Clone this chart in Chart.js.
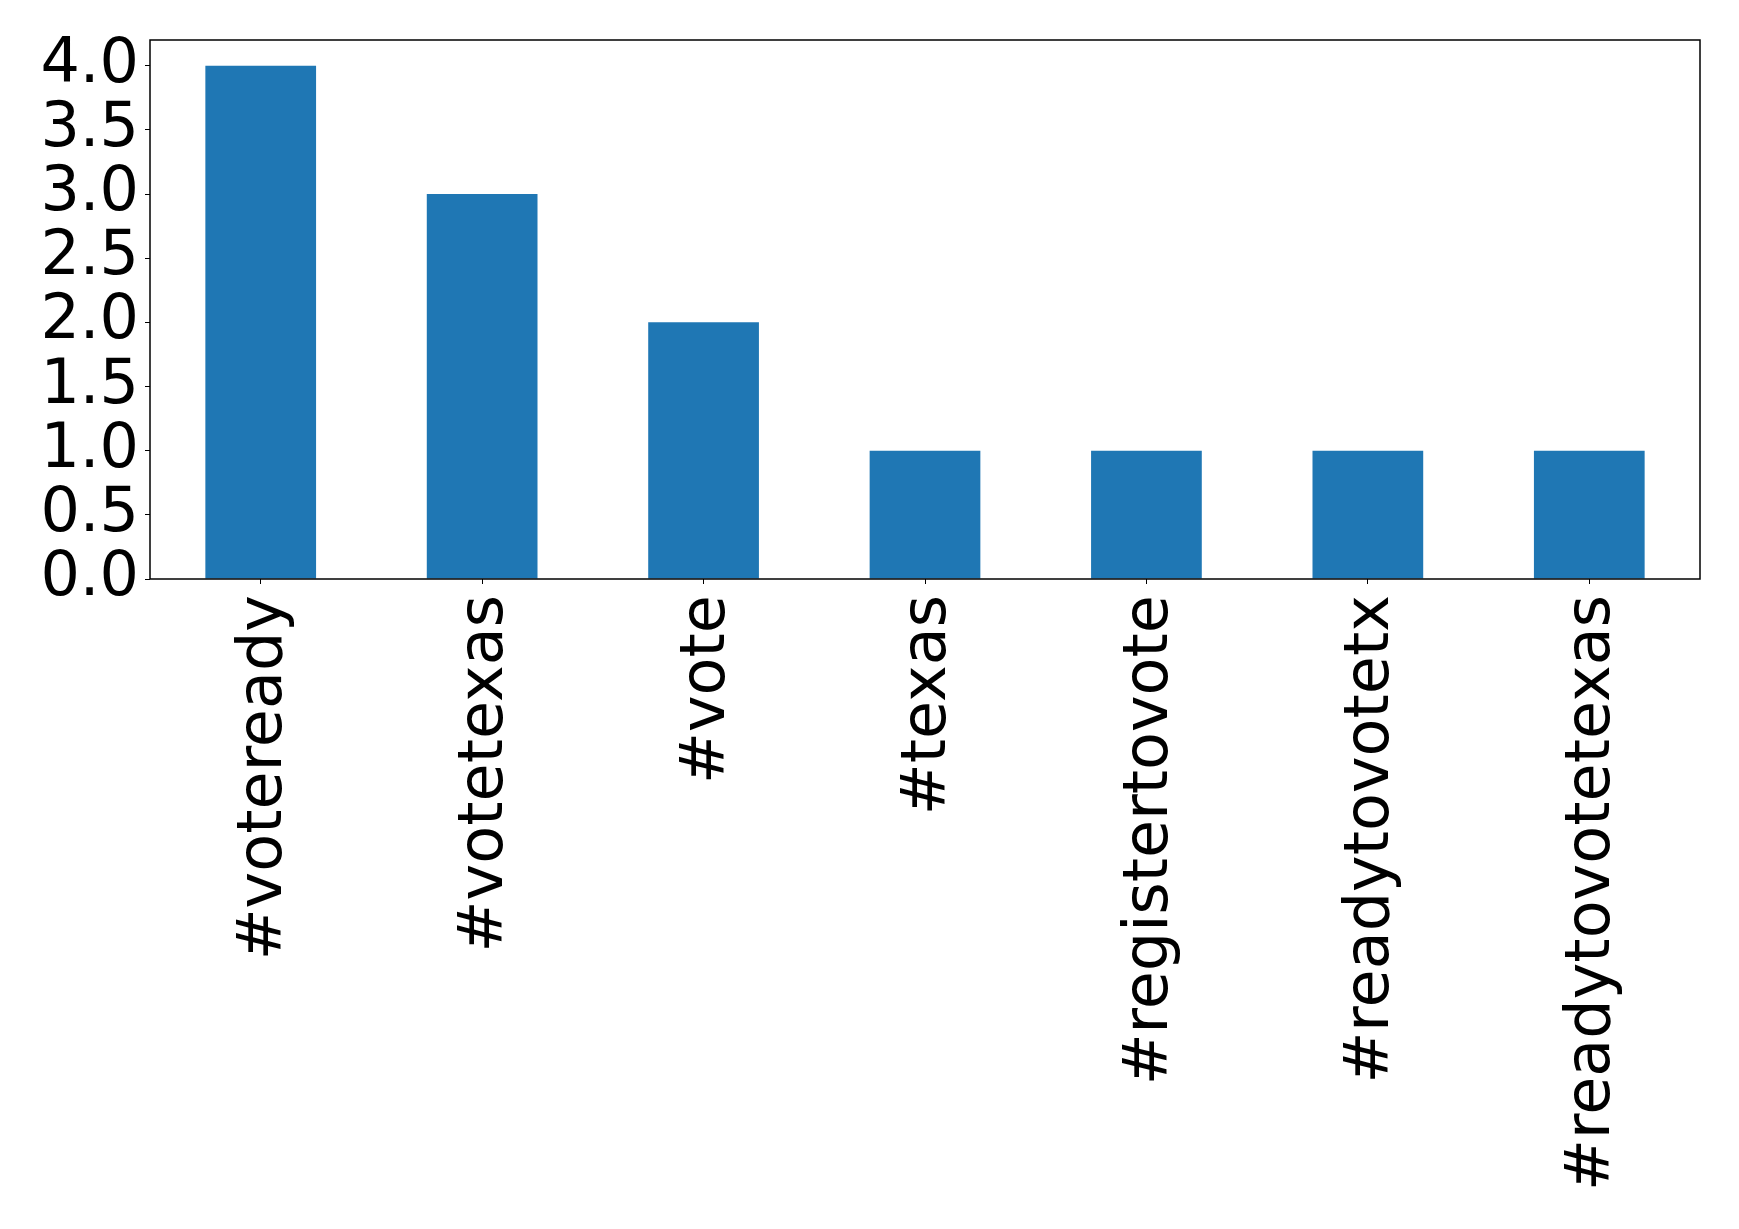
<!DOCTYPE html>
<html>
<head>
<meta charset="utf-8">
<script src="https://cdn.jsdelivr.net/npm/chart.js@4/dist/chart.umd.min.js"></script>
<style>
  html, body { margin: 0; padding: 0; background: #fff; }
  #chart { display: block; }
</style>
</head>
<body>
<canvas id="chart" width="1739" height="1229"></canvas>
<script>
const hashtags = ['#voteready', '#votetexas', '#vote', '#texas', '#registertovote', '#readytovotetx', '#readytovotetexas'];
const counts = [4, 3, 2, 1, 1, 1, 1];
const yTicks = [0, 0.5, 1, 1.5, 2, 2.5, 3, 3.5, 4];

const fontFamily = '"DejaVu Sans", sans-serif';

// matplotlib style box around the plot
const frame = {
  id: 'frame',
  afterDraw(chart) {
    const { ctx, chartArea: a } = chart;
    ctx.save();
    ctx.strokeStyle = '#000';
    ctx.lineWidth = 1.5;
    ctx.strokeRect(a.left, a.top, a.right - a.left, a.bottom - a.top);
    ctx.restore();
  }
};

new Chart(document.getElementById('chart').getContext('2d'), {
  type: 'bar',
  data: {
    labels: hashtags,
    datasets: [{
      data: counts,
      backgroundColor: '#1f77b4',
      borderWidth: 0,
      categoryPercentage: 0.5,
      barPercentage: 1.0
    }]
  },
  options: {
    responsive: false,
    animation: false,
    layout: { padding: { top: 40, right: 39, left: 0, bottom: 0 } },
    plugins: { legend: { display: false }, tooltip: { enabled: false } },
    scales: {
      x: {
        grid: { display: true, offset: false, drawOnChartArea: false, drawTicks: true, tickLength: 5, color: '#000' },
        border: { display: false },
        ticks: {
          color: '#000',
          font: { family: fontFamily, size: 62 },
          minRotation: 90,
          maxRotation: 90,
          padding: 11,
          labelOffset: 4,
          autoSkip: false
        },
        afterFit(scale) {
          scale.height = 1229 - 40 - 539;
          scale.paddingLeft = 0;
          scale.paddingRight = 0;
        }
      },
      y: {
        min: 0,
        max: 4.2,
        grid: { display: true, drawOnChartArea: false, drawTicks: true, tickLength: 5, color: '#000' },
        border: { display: false },
        afterBuildTicks(scale) {
          scale.ticks = yTicks.map(v => ({ value: v }));
        },
        ticks: {
          color: '#000',
          font: { family: fontFamily, size: 62 },
          padding: 6,
          autoSkip: false,
          callback: v => v.toFixed(1)
        },
        afterFit(scale) {
          scale.width = 150;
          scale.paddingTop = 0;
          scale.paddingBottom = 0;
        }
      }
    }
  },
  plugins: [frame]
});
</script>
</body>
</html>
